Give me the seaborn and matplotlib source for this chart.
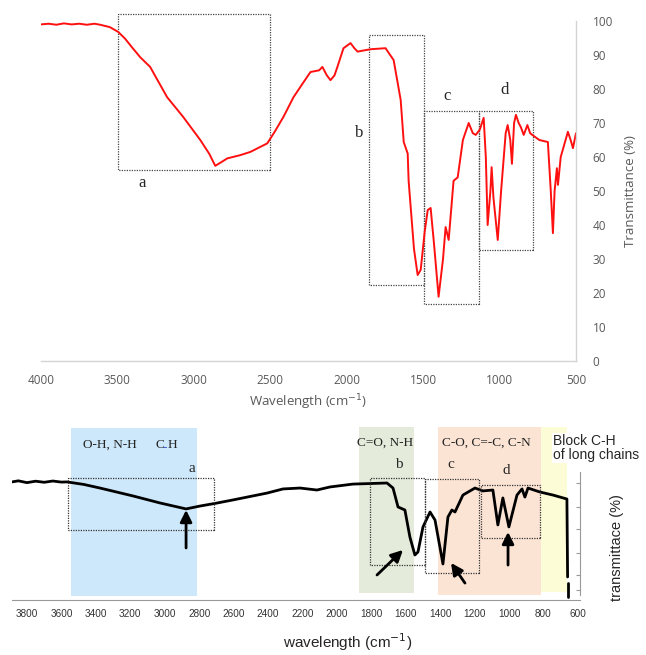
import numpy as np
import pandas as pd
import matplotlib.pyplot as plt
from matplotlib.patches import Rectangle
import seaborn as sns

# top spectrum (red)
top_wn = [4000, 3950, 3900, 3850, 3800, 3750, 3700, 3650, 3613, 3550, 3495, 3450, 3400,
          3350, 3286, 3230, 3175, 3070, 2958, 2900, 2860, 2820, 2781, 2700, 2630, 2520,
          2470, 2414, 2348, 2290, 2237, 2180, 2159, 2130, 2106, 2080, 2061, 2021, 1975,
          1950, 1929, 1844, 1746, 1693, 1647, 1627, 1601, 1595, 1560, 1536, 1516, 1490,
          1470, 1451, 1430, 1399, 1370, 1353, 1333, 1301, 1274, 1240, 1202, 1175, 1156,
          1130, 1104, 1090, 1078, 1060, 1052, 1040, 1012, 990, 960, 947, 930, 919, 905,
          893, 875, 861, 842, 818, 800, 786, 740, 684, 665, 651, 640, 625, 618, 600, 553,
          535, 520, 500]
top_tr = [99, 99.2, 98.9, 99.3, 99, 99.2, 98.9, 99.2, 98.9, 98.2, 96.8, 94.8, 92,
          89.3, 86.5, 82, 77.6, 71.8, 65, 61, 57.4, 58.5, 59.6, 60.5, 61.5, 64,
          67.5, 71.8, 77.6, 81.5, 85, 85.5, 86.5, 84, 82.6, 84, 86.5, 92, 93.5,
          92, 91, 91.7, 92, 88.5, 76.8, 64.4, 61, 53, 33, 25.3, 26.8, 38,
          44.4, 45, 35, 18.9, 30, 39.4, 35.6, 53, 54, 65, 70, 67, 66.5,
          68, 71.5, 60, 40, 50, 57, 48, 35.6, 50, 67, 69.4, 65, 58, 70,
          72.4, 70, 68.8, 66.5, 69.4, 67, 66.5, 65, 64.4, 50, 37.6, 50, 56.7, 51.8, 60, 67.4,
          65, 62.6, 67]

# bottom spectrum (black)
bot_wn = [3887, 3850, 3800, 3750, 3700, 3650, 3600, 3567, 3470, 3376, 3280, 3184, 3027,
          2876, 2795, 2700, 2603, 2406, 2313, 2214, 2116, 2040, 1907, 1709, 1674, 1645,
          1605, 1576, 1547, 1529, 1500, 1459, 1430, 1384, 1355, 1332, 1314, 1268, 1198,
          1152, 1094, 1065, 1036, 1001, 954, 925, 908, 890, 821, 745, 664, 660]
bot_tr = [65.6, 66.2, 65.2, 66, 65.4, 66.1, 65.5, 65.6, 64.2, 62.2, 60, 57.8, 53.9,
          50.6, 52.2, 53.8, 55.6, 59.4, 61.7, 62.2, 61.1, 62.8, 64.4, 65, 62.2, 51.7,
          50, 35, 25, 26.7, 40.6, 48.9, 44.4, 20, 46.1, 50, 48.9, 58.3, 62.2,
          60.6, 61.1, 41.7, 56.7, 40.6, 58.3, 61.7, 57.2, 62.2, 60, 58.3, 56.1, 12.8]
tail_wn = [660, 660]
tail_tr = [9.4, 1.7]

# top boxes: (label, left wn, right wn, low, high, label wn, label y)
top_boxes = [("a", 3495, 2500, 56.2, 102, 3340, 52.4),
             ("b", 1857, 1497, 22.4, 96, 1917, 67),
             ("c", 1497, 1136, 16.8, 73.6, 1346, 78),
             ("d", 1136, 782, 32.6, 73.6, 967, 79.7)]

# bottom boxes
bot_boxes = [(3562, 2714, 38.9, 67.8),
             (1808, 1488, 19.4, 67.8),
             (1488, 1175, 15, 67.2),
             (1163, 821, 34.4, 63.9)]
bot_letters = [("a", 2842, 73.3), ("b", 1640, 75), ("c", 1337, 75), ("d", 1018, 72.2)]

# shaded bands: (left, right, low, high, colour)
bands = [(3545, 2810, 2.2, 95.6, "#cde8fa"),
         (1870, 1550, 3.9, 96.1, "#e5ebda"),
         (1413, 815, 2.8, 96.1, "#fce4d5"),
         (815, 665, 4.4, 96.1, "#fcfcd6")]

# arrows: (tail wn, tail y, head wn, head y)
arrows = [(2876, 28.9, 2876, 50),
          (1767, 13.9, 1616, 27.8),
          (1256, 9.4, 1337, 20.6),
          (1006, 19.4, 1006, 37.8)]

sns.set_style("white")
fig = plt.figure(figsize=(6.46, 6.55), dpi=100)

# ---------- top panel ----------
ax1 = fig.add_axes([41 / 646, 1 - 361 / 655, 535 / 646, 340 / 655])
df1 = pd.DataFrame({"wn": top_wn, "tr": top_tr})
sns.lineplot(data=df1, x="wn", y="tr", sort=False, estimator=None, color="#ff1010",
             linewidth=1.4, ax=ax1)
ax1.set_xlim(4000, 500)
ax1.set_ylim(0, 100)
ax1.set_xticks(range(4000, 499, -500))
ax1.set_yticks(range(0, 101, 10))
for s in ["top", "left"]:
    ax1.spines[s].set_visible(False)
for s in ["bottom", "right"]:
    ax1.spines[s].set_color("#d4d4d4")
    ax1.spines[s].set_linewidth(1.0)
ax1.yaxis.tick_right()
ax1.yaxis.set_label_position("right")
ax1.tick_params(axis="x", direction="in", length=4, color="#d4d4d4", labelsize=8.5,
                labelcolor="#595959", pad=9)
ax1.tick_params(axis="y", length=0, labelsize=8.5, labelcolor="#595959", pad=12)
for lab in ax1.get_xticklabels() + ax1.get_yticklabels():
    lab.set_family(["Open Sans", "DejaVu Sans"])
ax1.set_xlabel("Wavelength (cm$^{-1}$)", fontsize=9.5, color="#595959",
               family=["Open Sans", "DejaVu Sans"], labelpad=4)
ax1.set_ylabel("Transmittance (%)", fontsize=9.5, color="#595959",
               family=["Open Sans", "DejaVu Sans"], labelpad=8)
for lab, x0, x1, y0, y1, lx, ly in top_boxes:
    ax1.add_patch(Rectangle((x1, y0), x0 - x1, y1 - y0, fill=False, ls=(0, (1, 1)),
                            lw=0.9, ec="#444444", clip_on=False))
    ax1.text(lx, ly, lab, ha="center", va="center", fontsize=12,
             family=["Liberation Serif", "DejaVu Serif"])

# ---------- bottom panel ----------
ax2 = fig.add_axes([12 / 646, 1 - 600 / 655, 568 / 646, 180 / 655])
for x0, x1, y0, y1, c in bands:
    ax2.axvspan(x1, x0, ymin=y0 / 100, ymax=y1 / 100, color=c, lw=0, zorder=0)
df2 = pd.DataFrame({"wn": bot_wn, "tr": bot_tr})
sns.lineplot(data=df2, x="wn", y="tr", sort=False, estimator=None, color="black",
             linewidth=2.0, ax=ax2)
sns.lineplot(x=tail_wn, y=tail_tr, sort=False, estimator=None, color="black",
             linewidth=2.0, ax=ax2)
for x0, x1, y0, y1 in bot_boxes:
    ax2.add_patch(Rectangle((x1, y0), x0 - x1, y1 - y0, fill=False, ls=(0, (1, 1)),
                            lw=0.9, ec="#333333", zorder=3))
for tx, ty, hx, hy in arrows:
    ax2.annotate("", xy=(hx, hy), xytext=(tx, ty),
                 arrowprops=dict(arrowstyle="-|>,head_width=0.35,head_length=0.7",
                                 color="black", lw=2.0, shrinkA=0, shrinkB=0))
serif = ["Liberation Serif", "DejaVu Serif"]
ax2.text(3475, 86, "O-H, N-H", fontsize=9.5, family=serif, color="#222222",
         va="center")
ax2.text(3056, 86, "C", fontsize=9.5, family=serif, color="#222222", va="center")
ax2.text(2998, 85, "-", fontsize=9.5, family=serif, color="#1f3fd0", va="center",
         ha="center", fontweight="bold")
ax2.text(2981, 86, "H", fontsize=9.5, family=serif, color="#222222", va="center")
ax2.text(1721, 87.2, "C=O, N-H", fontsize=9.5, family=serif, color="#222222",
         ha="center", va="center")
ax2.text(1134, 87.2, "C-O, C=-C, C-N", fontsize=9.5, family=serif, color="#222222",
         ha="center", va="center")
for lab, lx, ly in bot_letters:
    ax2.text(lx, ly, lab, fontsize=11, family=serif, ha="center", va="center")
ax2.text(745, 84.4, "Block C-H\nof long chains", fontsize=10, linespacing=0.95,
         family=["Liberation Sans", "DejaVu Sans"], va="center", ha="left",
         bbox=dict(fc="white", ec="none", pad=1), clip_on=False)

ax2.set_xlim(3887, 588)
ax2.set_ylim(0, 100)
ax2.set_xticks(range(3800, 599, -200))
ax2.set_yticks([5.6, 13.9, 26.1, 39.4, 51.7, 65])
ax2.yaxis.tick_right()
ax2.set_yticklabels([])
for s in ["top", "left"]:
    ax2.spines[s].set_visible(False)
ax2.spines["bottom"].set_color("#999999")
ax2.spines["right"].set_color("#999999")
ax2.spines["right"].set_bounds(2.8, 71.1)
ax2.tick_params(axis="x", direction="inout", length=3, color="#999999", labelsize=7.2,
                labelcolor="#333333", pad=5)
ax2.tick_params(axis="y", direction="in", length=3, color="#999999")
for lab in ax2.get_xticklabels():
    lab.set_family(["Liberation Sans Narrow", "Liberation Sans", "DejaVu Sans"])
ax2.set_xlabel("")
ax2.set_ylabel("")

fig.text(348 / 646, 1 - 642 / 655, "wavelength (cm$^{-1}$)", ha="center", va="center",
         fontsize=11, family=["Liberation Sans Narrow", "Liberation Sans", "DejaVu Sans"])
fig.text(617 / 646, 1 - 548 / 655, "transmittace (%)", ha="center", va="center",
         rotation=90, fontsize=10.5, family=["Liberation Sans", "DejaVu Sans"])

fig.savefig("out.png", dpi=100)
